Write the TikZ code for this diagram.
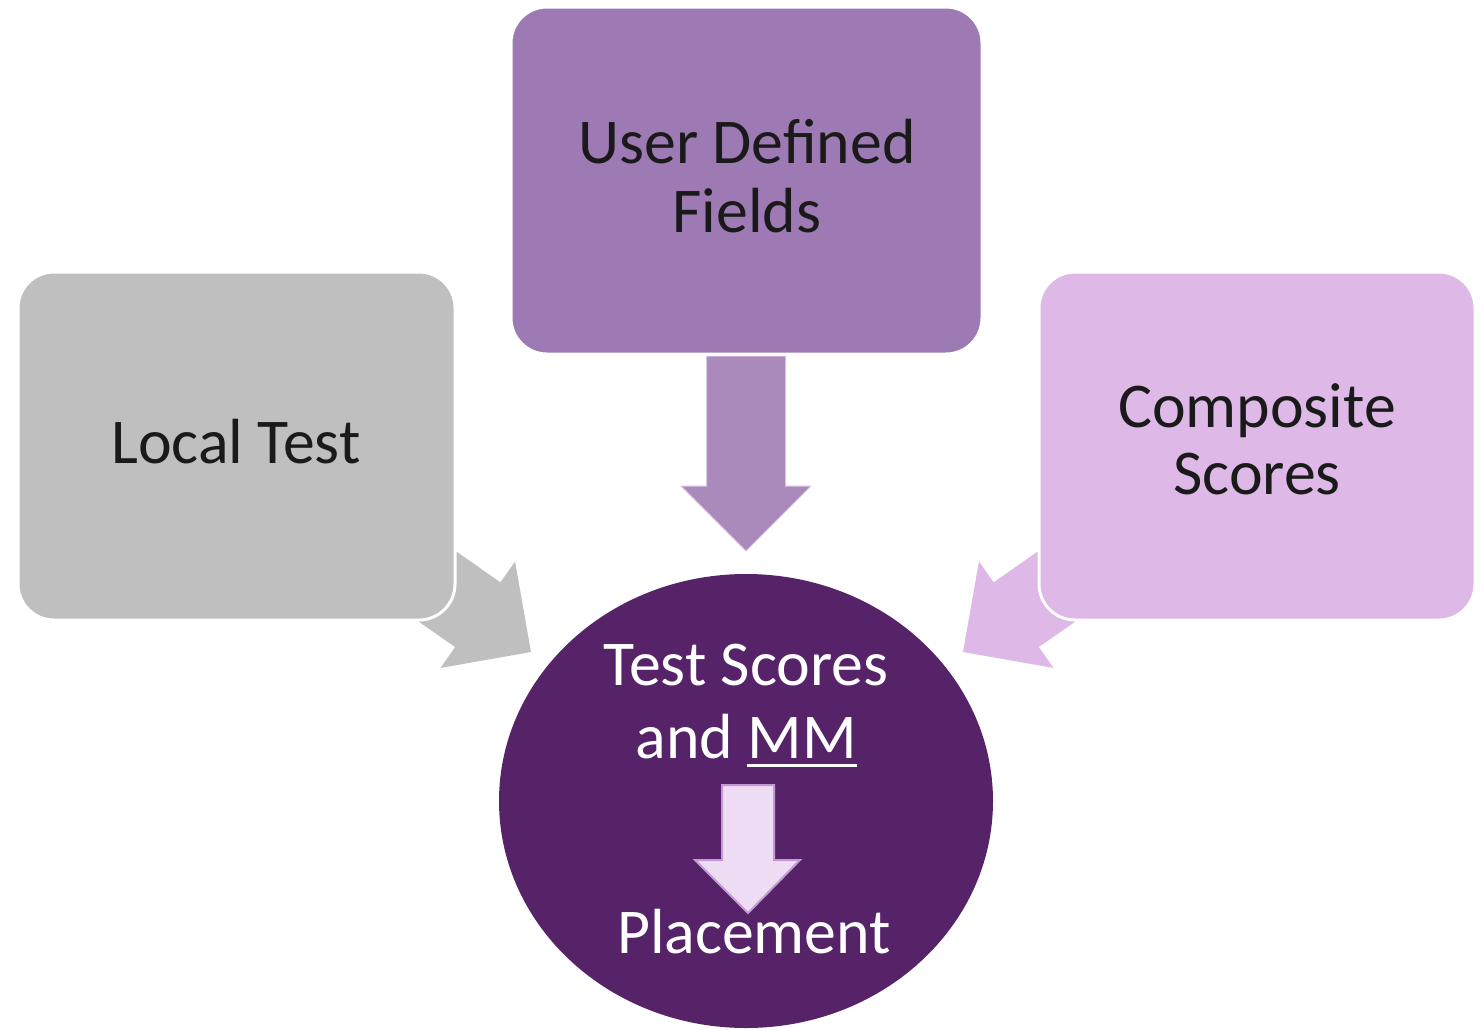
\documentclass[tikz,border=0pt]{standalone}
\usepackage{fontspec}
\setmainfont{Carlito}
\usetikzlibrary{shapes.geometric}
\definecolor{greybox}{HTML}{BFBFBF}
\definecolor{udfbox}{HTML}{9E7AB4}
\definecolor{compbox}{HTML}{DEB8E6}
\definecolor{midarrow}{HTML}{A98ABB}
\definecolor{midedge}{HTML}{D9C6E3}
\definecolor{hubfill}{HTML}{562369}
\definecolor{innerfill}{HTML}{EEDDF4}
\definecolor{inneredge}{HTML}{C49AD6}
\definecolor{textdark}{HTML}{1A1A1A}
\newcommand\mmul[1]{\setbox0=\hbox{#1}\rlap{\rule[-9pt]{\wd0}{2.6pt}}\box0}
\begin{document}
\begin{tikzpicture}[x=1pt,y=-1pt,
  box/.style={draw=white, line width=3pt, rounded corners=36pt, inner sep=0pt},
  lbl/.style={anchor=base, inner sep=0pt, font=\fontsize{63.8}{70}\selectfont, text=textdark},
  hublbl/.style={lbl, text=white},
  blockarrow/.style={draw=none}]
\useasboundingbox (0,0) rectangle (1481,1029);

% tips of the block arrows
\coordinate (tipL) at (531,652);
\coordinate (tipM) at (746,551);
\coordinate (tipR) at (963,652);

% block arrows (drawn behind the boxes)
\path[blockarrow, fill=greybox, shift={(tipL)}, rotate=-35]
  (-195,-39.5) -- (-65,-39.5) -- (-65,-65) -- (0,0) -- (-65,65) -- (-65,39.5) -- (-195,39.5) -- cycle;
\path[blockarrow, fill=compbox, shift={(tipR)}, rotate=-145]
  (-195,-39.5) -- (-65,-39.5) -- (-65,-65) -- (0,0) -- (-65,65) -- (-65,39.5) -- (-195,39.5) -- cycle;
\path[fill=midarrow, draw=midedge, line width=1pt, shift={(tipM)}, rotate=-90]
  (-195,-39.5) -- (-65,-39.5) -- (-65,-65) -- (0,0) -- (-65,65) -- (-65,39.5) -- (-195,39.5) -- cycle;

% boxes
\node[box, fill=greybox, minimum width=437pt, minimum height=348pt] (local) at (236.5,446) {};
\node[box, fill=udfbox, minimum width=471pt, minimum height=347pt] (udf) at (746.5,180.5) {};
\node[box, fill=compbox, minimum width=436pt, minimum height=348pt] (comp) at (1257,446) {};

% hub
\node[ellipse, fill=hubfill, minimum width=494pt, minimum height=454pt, inner sep=0pt] (hub) at (746,801) {};

% inner arrow
\path[fill=innerfill, draw=inneredge, line width=2pt]
  (722,785) -- (774,785) -- (774,860) -- (800,860) -- (748,913) -- (695,860) -- (722,860) -- cycle;

% texts
\node[lbl] (tLocal) at (236,463) {Local Test};
\node[lbl] (tUdfA) at (747,163) {User Defined};
\node[lbl] (tUdfB) at (747,232) {Fields};
\node[lbl] (tCompA) at (1257,427) {Composite};
\node[lbl] (tCompB) at (1257,494) {Scores};
\node[hublbl] (tHubA) at (746,685) {Test Scores};
\node[hublbl] (tHubB) at (746,758) {and \mmul{MM}};
\node[hublbl] (tHubC) at (754,953) {Placement};
\end{tikzpicture}
\end{document}
